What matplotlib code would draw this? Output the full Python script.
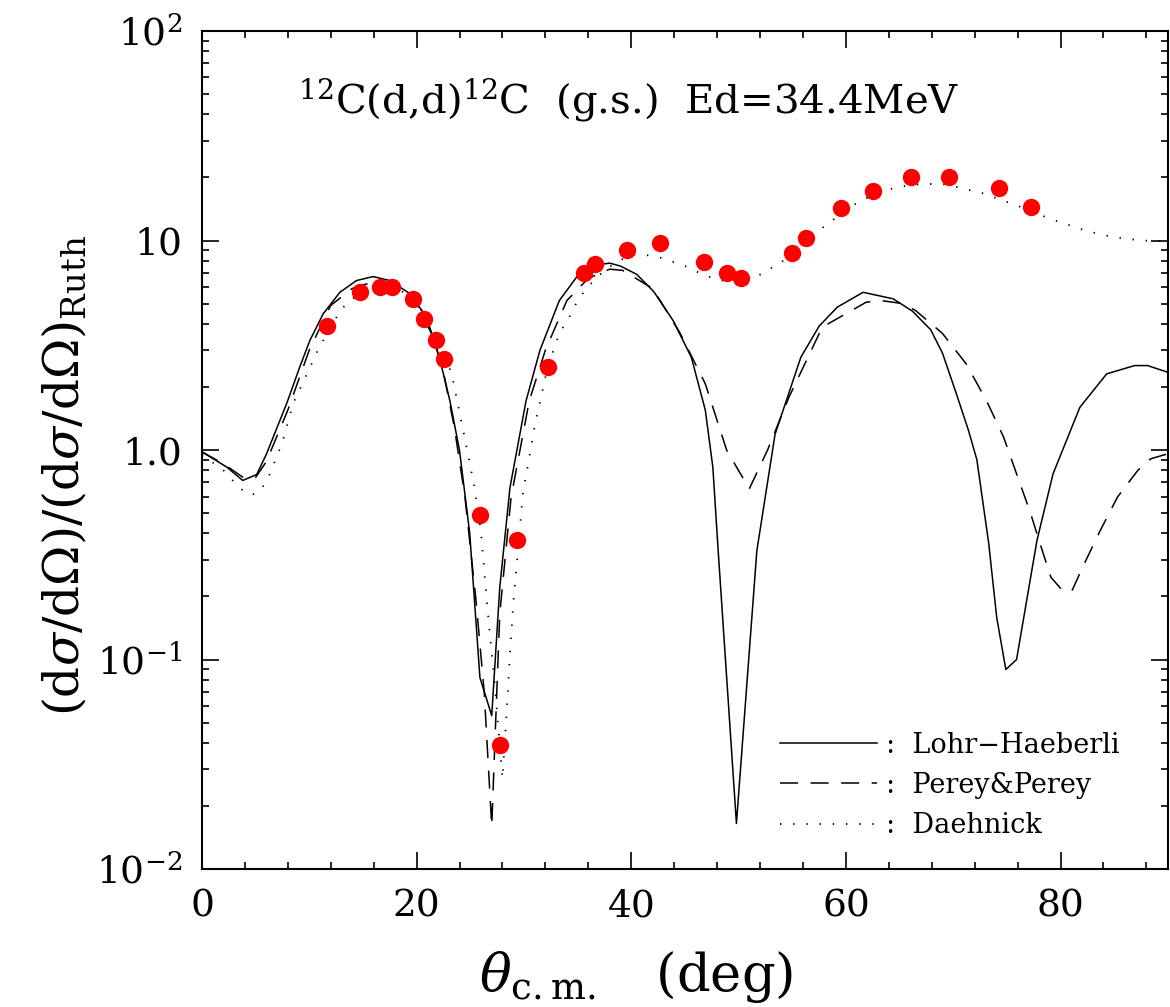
import numpy as np
import matplotlib
matplotlib.use("Agg")
import matplotlib.pyplot as plt
from matplotlib.lines import Line2D
from matplotlib.ticker import FixedLocator, LogLocator, MultipleLocator, FuncFormatter

plt.rcParams.update({
    "font.family": "DejaVu Serif",
    "mathtext.fontset": "dejavuserif",
    "lines.scale_dashes": False,
})

# measured 12C(d,d) at Ed = 34.4 MeV, ratio to Rutherford
theta_exp = [11.67, 14.71, 16.57, 17.69, 19.62, 20.67, 21.79, 22.53, 25.88, 27.77,
             29.39, 32.22, 35.57, 36.66, 39.64, 42.64, 46.77, 48.95, 50.25, 54.96,
             56.24, 59.53, 62.54, 66.04, 69.65, 74.24, 77.22]
ratio_exp = [3.89, 5.67, 5.98, 5.98, 5.27, 4.23, 3.36, 2.73, 0.487, 0.0389,
             0.373, 2.48, 7.01, 7.74, 9.03, 9.70, 7.91, 6.98, 6.61, 8.74,
             10.25, 14.3, 17.3, 20.2, 20.2, 17.8, 14.5]

# optical-model curves
theta_lh = [0, 2.3, 3.8, 5.1, 6.0, 7.9, 9.1, 10.05, 11.3, 12.85, 14.4, 15.95, 17.5,
            19.4, 20.9, 21.85, 22.5, 23.1, 24.0, 24.95, 25.9, 27.0, 27.75, 28.7,
            30.2, 31.5, 33.3, 34.9, 36.4, 38.0, 39.0, 40.5, 42.1, 43.9, 45.6, 46.9,
            47.6, 48.1, 49.8, 51.7, 53.4, 55.8, 57.5, 59.2, 61.6, 64.4, 66.2, 67.9,
            69.0, 70.3, 71.4, 72.2, 73.3, 74.05, 74.9, 75.9, 77.8, 79.3, 81.8, 84.3,
            86.9, 88.1, 90.0]
ratio_lh = [0.98, 0.83, 0.716, 0.764, 0.954, 1.67, 2.48, 3.33, 4.47, 5.66, 6.44, 6.73, 6.44,
            5.57, 4.31, 3.09, 2.31, 1.72, 0.995, 0.40, 0.082, 0.054, 0.221, 0.662,
            1.72, 3.0, 5.17, 6.68, 7.6, 7.8, 7.55, 6.9, 5.7, 4.15, 2.77, 1.55,
            0.83, 0.33, 0.0165, 0.33, 1.19, 2.77, 3.9, 4.81, 5.66, 5.27, 4.6, 3.75,
            2.9, 1.85, 1.25, 0.9, 0.36, 0.159, 0.0896, 0.10, 0.37, 0.77, 1.6, 2.31,
            2.53, 2.53, 2.35]

theta_pp = [0, 2, 4, 5, 6, 8, 10, 12, 14, 15.3, 17, 18.5, 20, 21.5, 22.5, 23.5, 24.5,
            25.5, 26.3, 27.0, 27.3, 27.75, 28.8, 30.5, 32, 34.0, 36, 38, 39.2, 42.0,
            44.5, 46.9, 48.9, 51.0, 52.7, 54.7, 57.8, 61.9, 63.5, 65.3, 66.5, 69.0,
            71.2, 73.1, 74.7, 75.9, 77.2, 78.1, 79.1, 80.3, 81.1, 82.2, 83.7, 85.3,
            87.2, 88.4, 90]
ratio_pp = [0.98, 0.86, 0.73, 0.74, 0.88, 1.55, 3.0, 4.9, 5.9, 6.2, 6.3, 6.0, 5.0, 3.5,
            2.35, 1.3, 0.6, 0.2, 0.07, 0.016, 0.041, 0.166, 0.593, 1.72, 3.0, 5.17,
            6.6, 7.3, 7.2, 5.9, 3.65, 2.07, 0.995, 0.653, 1.0, 1.79, 3.86, 5.08, 5.15,
            5.0, 4.63, 3.6, 2.58, 1.72, 1.15, 0.77, 0.50, 0.356, 0.247, 0.21, 0.215,
            0.286, 0.413, 0.596, 0.80, 0.908, 0.96]

theta_da = [0, 2, 3.5, 4.4, 5.1, 6.0, 7.5, 8.5, 9.75, 10.9, 12.9, 13.8, 15.5, 17.35,
            19, 20.5, 22.4, 23.3, 24.4, 25.4, 26.0, 26.65, 27.3, 28.0, 28.4, 28.7,
            29.05, 29.45, 29.9, 31, 32.2, 33.3, 34.4, 35.0, 35.8, 36.75, 37.7, 38.9,
            40.2, 41.5, 42.8, 44.0, 45.3, 46.5, 47.8, 49.2, 50.4, 51.6, 52.9, 54.0,
            55.5, 57.1, 58.2, 60.3, 61.4, 62.7, 63.9, 65.2, 66.5, 67.9, 69.3, 70.6,
            71.9, 73.2, 74.4, 75.7, 77.0, 78.2, 79.4, 80.9, 82.2, 83.4, 84.7, 86.1,
            87.5, 88.7, 90]
ratio_da = [0.95, 0.80, 0.66, 0.61, 0.62, 0.70, 1.09, 1.67, 2.29, 3.07, 4.63, 5.21, 5.8,
            6.1, 5.6, 4.63, 3.09, 2.27, 1.2, 0.66, 0.405, 0.165, 0.074, 0.027, 0.057,
            0.107, 0.198, 0.331, 0.618, 1.3, 2.48, 3.6, 4.47, 5.17, 5.89, 6.64, 7.33,
            8.03, 8.58, 8.5, 8.26, 7.88, 7.46, 6.94, 6.56, 6.32, 6.32, 6.68, 7.33, 7.88,
            9.2, 10.8, 11.9, 14.3, 15.5, 16.6, 17.5, 18.1, 18.5, 18.6, 18.5, 17.9,
            17.2, 16.6, 15.6, 14.9, 13.9, 13.2, 12.5, 11.8, 11.2, 10.8, 10.45, 10.2,
            10.0, 9.97, 9.9]

labels = [":  Lohr\u2212Haeberli", ":  Perey&Perey", ":  Daehnick"]
ytick_text = {1e-2: r"10$^{-2}$", 1e-1: r"10$^{-1}$", 1.0: "1.0", 10.0: "10", 100.0: r"10$^{2}$"}

fig = plt.figure(figsize=(11.7, 10.07), dpi=100)
ax = fig.add_axes([0.1726, 0.137, 0.8256, 0.8322])

lw = 1.1
solid_style = dict(color="black", lw=lw, ls="-")
dash_style = dict(color="black", lw=lw, ls=(0, (13, 9)))
dot_style = dict(color="black", lw=1.3, ls=(0, (1, 8.5)))

ax.plot(theta_lh, ratio_lh, **solid_style)
ax.plot(theta_pp, ratio_pp, **dash_style)
ax.plot(theta_da, ratio_da, **dot_style)
ax.plot(theta_exp, ratio_exp, "o", color="red", ms=12.5, mec="none", zorder=3)

ax.set_yscale("log")
ax.set_xlim(0, 90)
ax.set_ylim(1e-2, 1e2)

ax.xaxis.set_major_locator(MultipleLocator(20))
ax.xaxis.set_minor_locator(MultipleLocator(4))
ax.yaxis.set_major_locator(FixedLocator(list(ytick_text)))
ax.yaxis.set_minor_locator(LogLocator(base=10, subs=np.arange(2, 10), numticks=20))
ax.yaxis.set_major_formatter(FuncFormatter(lambda v, p: ytick_text.get(v, "")))
ax.yaxis.set_minor_formatter(FuncFormatter(lambda v, p: ""))

ax.tick_params(which="both", direction="in", top=True, right=True, width=1.2,
               labelsize=27, colors="black")
ax.tick_params(which="major", length=12, pad=14)
ax.tick_params(which="minor", length=5)
for s in ax.spines.values():
    s.set_linewidth(1.5)

ax.set_xlabel(r"$\theta_{\rm c.m.}$   (deg)", fontsize=38)
ax.xaxis.set_label_coords(0.45, -0.095)
ax.set_ylabel(r"(d$\sigma$/d$\Omega$)/(d$\sigma$/d$\Omega$)$_{\rm Ruth}$", fontsize=35)
ax.yaxis.set_label_coords(-0.118, 0.47)

ax.text(0.442, 0.918, r"$^{12}$C(d,d)$^{12}$C  (g.s.)  Ed=34.4MeV",
        transform=ax.transAxes, ha="center", va="center", fontsize=29)

handles = [Line2D([], [], **solid_style), Line2D([], [], **dash_style),
           Line2D([], [], **dot_style)]
ax.legend(handles, labels, loc="upper left", bbox_to_anchor=(0.598, 0.164),
          frameon=False, fontsize=19.5, handlelength=3.6, handletextpad=0.33,
          labelspacing=0.49, borderpad=0, borderaxespad=0)

fig.savefig("out.png", dpi=100)
